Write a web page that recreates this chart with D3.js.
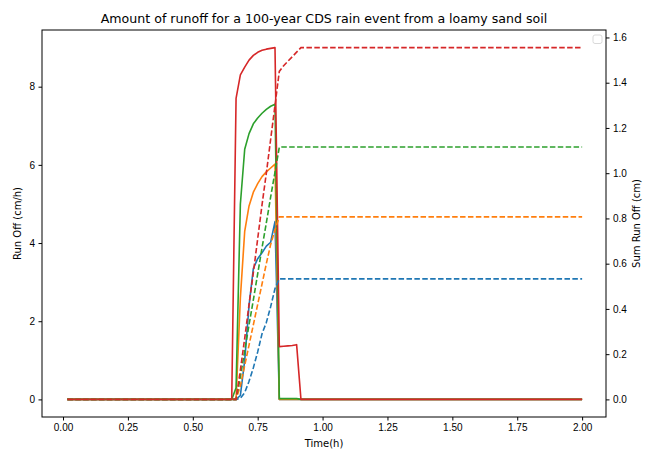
<!DOCTYPE html>
<html>
<head>
<meta charset="utf-8">
<script src="https://cdn.jsdelivr.net/npm/d3@7"></script>
<style>
  body { margin: 0; background: #fff; }
  svg { font-family: "DejaVu Sans", sans-serif; }
  .tick text { font-size: 10px; fill: #000; }
  .tick line { stroke: #000; }
</style>
</head>
<body>
<svg id="chart" width="647" height="455"></svg>
<script>
// Time steps (hours) where the curves change
const timeH = [0.0167, 0.65, 0.6667, 0.6833, 0.7, 0.7167, 0.7333, 0.75, 0.7667, 0.7833,
  0.8, 0.8167, 0.8333, 0.85, 0.8667, 0.8833, 0.9, 0.9167, 2.0];

// Run off (cm/h), left axis
const runoffBlue = [0, 0, 0, 0.1, 1.0, 2.4, 3.35, 3.6, 3.75, 3.92, 4.02, 4.55, 0, 0, 0, 0, 0, 0, 0];
const runoffOrange = [0, 0, 0, 2.6, 4.3, 4.95, 5.3, 5.52, 5.7, 5.82, 5.92, 6.02, 0, 0, 0, 0, 0, 0, 0];
const runoffGreen = [0, 0, 0.3, 5.0, 6.4, 6.8, 7.05, 7.2, 7.32, 7.42, 7.5, 7.55, 0.02, 0.02, 0.02, 0.02, 0.02, 0, 0];
const runoffRed = [0, 0, 7.7, 8.3, 8.5, 8.68, 8.8, 8.88, 8.93, 8.96, 8.98, 9.0, 1.35, 1.36, 1.37, 1.38, 1.4, 0, 0];

// Sum run off (cm), right axis
const sumBlue = [0, 0, 0, 0.005, 0.03, 0.08, 0.14, 0.21, 0.29, 0.34, 0.41, 0.49, 0.533, 0.533, 0.533, 0.533, 0.533, 0.533, 0.533];
const sumOrange = [0, 0, 0, 0.06, 0.15, 0.24, 0.33, 0.42, 0.51, 0.6, 0.685, 0.75, 0.807, 0.807, 0.807, 0.807, 0.807, 0.807, 0.807];
const sumGreen = [0, 0, 0, 0.10, 0.215, 0.33, 0.44, 0.555, 0.67, 0.78, 0.895, 1.005, 1.115, 1.116, 1.116, 1.116, 1.116, 1.116, 1.116];
const sumRed = [0, 0, 0, 0.13, 0.27, 0.42, 0.56, 0.71, 0.86, 1.0, 1.15, 1.30, 1.45, 1.475, 1.495, 1.515, 1.535, 1.555, 1.555];

const xTicks = [0, 0.25, 0.5, 0.75, 1.0, 1.25, 1.5, 1.75, 2.0];
const yLeftTicks = [0, 2, 4, 6, 8];
const yRightTicks = [0, 0.2, 0.4, 0.6, 0.8, 1.0, 1.2, 1.4, 1.6];

const titleText = 'Amount of runoff for a 100-year CDS rain event from a loamy sand soil';

// matplotlib tab10
const colors = ['#1f77b4', '#ff7f0e', '#2ca02c', '#d62728'];

const margin = {top: 30, right: 41, bottom: 38, left: 42};
const svg = d3.select('#chart');
const W = +svg.attr('width');
const H = +svg.attr('height');

const x = d3.scaleLinear().domain([-0.081, 2.092]).range([margin.left, W - margin.right]);
const yL = d3.scaleLinear().domain([-0.45, 9.45]).range([H - margin.bottom, margin.top]);
const yR = d3.scaleLinear().domain([-0.0778, 1.633]).range([H - margin.bottom, margin.top]);

// Solid run off lines
const lineL = d3.line().x((d) => x(d[0])).y((d) => yL(d[1]));
[runoffBlue, runoffOrange, runoffGreen, runoffRed].forEach((vals, i) => {
  svg.append('path')
    .datum(timeH.map((t, j) => [t, vals[j]]))
    .attr('d', lineL)
    .attr('fill', 'none')
    .attr('stroke', colors[i])
    .attr('stroke-width', 1.6)
    .attr('stroke-linejoin', 'round');
});

// Dashed cumulative lines (twin axis, drawn on top)
const lineR = d3.line().x((d) => x(d[0])).y((d) => yR(d[1]));
[sumBlue, sumOrange, sumGreen, sumRed].forEach((vals, i) => {
  svg.append('path')
    .datum(timeH.map((t, j) => [t, vals[j]]))
    .attr('d', lineR)
    .attr('fill', 'none')
    .attr('stroke', colors[i])
    .attr('stroke-width', 1.6)
    .attr('stroke-dasharray', '5.5,2.4');
});

// Axes (spines drawn by the frame below)
svg.append('g')
  .attr('transform', `translate(0,${H - margin.bottom})`)
  .call(d3.axisBottom(x).tickValues(xTicks).tickFormat(d3.format('.2f')).tickSize(3.5).tickPadding(3.5))
  .call((g) => g.select('.domain').remove());
svg.append('g')
  .attr('transform', `translate(${margin.left},0)`)
  .call(d3.axisLeft(yL).tickValues(yLeftTicks).tickFormat(d3.format('d')).tickSize(3.5).tickPadding(3.5))
  .call((g) => g.select('.domain').remove());
svg.append('g')
  .attr('transform', `translate(${W - margin.right},0)`)
  .call(d3.axisRight(yR).tickValues(yRightTicks).tickFormat(d3.format('.1f')).tickSize(3.5).tickPadding(3.5))
  .call((g) => g.select('.domain').remove());

// Frame
svg.append('rect')
  .attr('x', margin.left)
  .attr('y', margin.top)
  .attr('width', W - margin.left - margin.right)
  .attr('height', H - margin.top - margin.bottom)
  .attr('fill', 'none')
  .attr('stroke', '#000')
  .attr('stroke-width', 1);

// Empty legend box
svg.append('rect')
  .attr('x', W - margin.right - 13)
  .attr('y', margin.top + 5)
  .attr('width', 9)
  .attr('height', 8.5)
  .attr('rx', 2)
  .attr('fill', '#fff')
  .attr('fill-opacity', 0.8)
  .attr('stroke', '#d9d9d9')
  .attr('stroke-width', 1);

// Labels
svg.append('text')
  .attr('x', (margin.left + W - margin.right) / 2)
  .attr('y', margin.top - 7)
  .attr('text-anchor', 'middle')
  .attr('font-size', 12.6)
  .text(titleText);

svg.append('text')
  .attr('x', (margin.left + W - margin.right) / 2)
  .attr('y', H - 8)
  .attr('text-anchor', 'middle')
  .attr('font-size', 10)
  .text('Time(h)');

svg.append('text')
  .attr('transform', `translate(21,${(margin.top + H - margin.bottom) / 2}) rotate(-90)`)
  .attr('text-anchor', 'middle')
  .attr('font-size', 10)
  .text('Run Off (cm/h)');

svg.append('text')
  .attr('transform', `translate(640,${(margin.top + H - margin.bottom) / 2}) rotate(-90)`)
  .attr('text-anchor', 'middle')
  .attr('font-size', 10)
  .text('Sum Run Off (cm)');
</script>
</body>
</html>
